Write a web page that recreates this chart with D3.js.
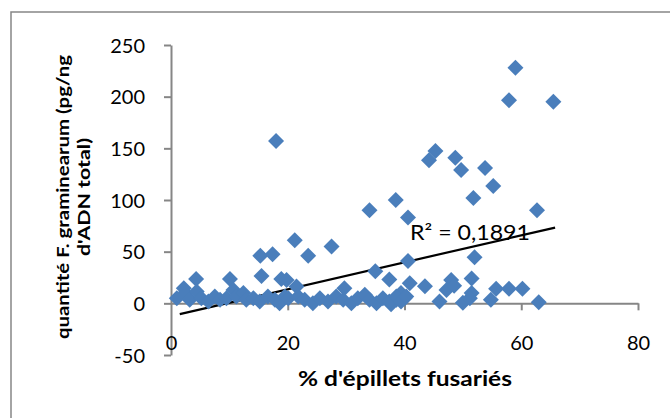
<!DOCTYPE html>
<html>
<head>
<meta charset="utf-8">
<script src="https://cdn.jsdelivr.net/npm/d3@7"></script>
<style>
  html, body { margin: 0; padding: 0; background: #ffffff; }
  svg { display: block; }
</style>
</head>
<body>
<script>
// ---- data ----
const xValues = [
  59.0, 57.9, 65.5, 45.3, 44.2, 48.7, 49.7, 53.8, 55.2, 51.8, 34.0, 38.5, 40.6, 62.7, 18.0,
  52.0, 40.6, 35.0, 37.4, 40.9, 43.5, 48.0, 51.5, 47.2, 51.5, 46.0, 50.0, 51.2, 54.8, 55.7,
  57.9, 60.2, 63.0, 39.4, 38.6, 37.7, 40.0, 48.5,
  21.2, 27.5, 15.3, 17.4, 23.5, 15.5, 18.9, 4.3, 10.1, 2.2, 19.8, 21.5, 29.7,
  1.0, 2.4, 3.2, 4.4, 5.2, 6.4, 7.5, 8.4, 9.5, 10.7, 11.2, 12.4, 12.9, 14.1, 15.2, 16.6,
  17.8, 18.6, 19.5, 20.1, 21.8, 22.9, 24.3, 25.5, 26.9, 28.3, 29.5, 30.9, 32.0, 33.2, 34.0,
  35.2, 36.3, 37.4, 38.6, 39.4, 40.3
];
const yValues = [
  228, 196.5, 195, 147.5, 138.5, 141, 129, 131, 113.5, 102, 90, 100, 83, 90, 157,
  44.5, 41, 31, 23, 19.5, 16.5, 22.7, 24, 13, 10, 1.7, 0.5, 5, 3.4, 14,
  14, 14, 1, 9.9, 3.4, -1, 5, 17,
  61, 55, 46, 47.6, 46, 26.5, 23.5, 23.5, 23.5, 14.7, 22.7, 16.3, 14.7,
  5, 9.9, 3.4, 11.4, 5, 1.7, 6.6, 3.4, 5, 13, 6.6, 9.9, 3.4, 5, 1.7, 6.6,
  3.4, 0.2, 6.6, 5, 6.6, 3.4, 0.2, 5, 1.7, 6.6, 3.4, 0.2, 5, 8.2, 3.4,
  0.2, 5, 1.7, 6.6, 1.7, 6.6
];
const xTicks = [0, 20, 40, 60, 80];
const yTicks = [-50, 0, 50, 100, 150, 200, 250];
const trendSlope = 1.302;
const trendIntercept = -12.4;
const trendRange = [1.5, 65.8];
const r2Label = "R² = 0,1891";
const xTitle = "% d'épillets fusariés";
const yTitleLines = ["quantité F. graminearum (pg/ng", "d'ADN total)"];

// ---- drawing ----
const W = 670, H = 418;
const svg = d3.select("body").append("svg").attr("width", W).attr("height", H);
const font = "Lato, 'Open Sans', sans-serif";
const axisColor = "#868686";

// chart frame (only top and left visible)
svg.append("path").attr("d", `M11,${H} L11,12 L${W},12`)
  .attr("fill", "none").attr("stroke", axisColor).attr("stroke-width", 1.5);

const x = d3.scaleLinear().domain([0, 80]).range([171, 638]);
const y = d3.scaleLinear().domain([-50, 250]).range([355, 45]);

// y axis
const yAxis = svg.append("g").attr("transform", `translate(${x(0)},0)`)
  .call(d3.axisLeft(y).tickValues(yTicks).tickFormat(d => String(d))
    .tickSize(7).tickPadding(19).tickSizeOuter(0));
// x axis at y = 0
const xAxis = svg.append("g").attr("transform", `translate(0,${y(0)})`)
  .call(d3.axisBottom(x).tickValues(xTicks).tickFormat(d => String(d))
    .tickSize(7).tickSizeOuter(0));

[yAxis, xAxis].forEach(g => {
  g.select(".domain").attr("stroke", axisColor).attr("stroke-width", 2);
  g.selectAll(".tick line").attr("stroke", axisColor).attr("stroke-width", 2);
  g.selectAll(".tick text").attr("fill", "#000").attr("font-family", font).attr("font-size", 20);
});
yAxis.selectAll(".tick text").attr("dy", "0.36em");
// x tick labels sit below the plot area
xAxis.selectAll(".tick text").attr("y", y(-50) - y(0) - 19).attr("dy", "0.71em");
xAxis.selectAll(".tick").filter(d => d === 0).select("line").remove();

// trend line
svg.append("line")
  .attr("x1", x(trendRange[0])).attr("y1", y(trendSlope * trendRange[0] + trendIntercept))
  .attr("x2", x(trendRange[1])).attr("y2", y(trendSlope * trendRange[1] + trendIntercept))
  .attr("stroke", "#000").attr("stroke-width", 2.2);

// points
const pts = xValues.map((v, i) => [v, yValues[i]]);
const s = 8;
svg.append("g").selectAll("path").data(pts).join("path")
  .attr("d", d => `M${x(d[0])},${y(d[1]) - s} L${x(d[0]) + s},${y(d[1])} L${x(d[0])},${y(d[1]) + s} L${x(d[0]) - s},${y(d[1])} Z`)
  .attr("fill", "#4A7EBB");

// R² label
svg.append("text").attr("x", 470).attr("y", 240).attr("text-anchor", "middle")
  .attr("font-family", font).attr("font-size", 21).attr("fill", "#000")
  .attr("textLength", 120).attr("lengthAdjust", "spacingAndGlyphs").text(r2Label);

// axis titles
svg.append("text").attr("x", 405).attr("y", 386).attr("text-anchor", "middle")
  .attr("font-family", font).attr("font-weight", "bold").attr("font-size", 20)
  .attr("fill", "#000").attr("textLength", 214).attr("lengthAdjust", "spacingAndGlyphs")
  .text(xTitle);

const yLens = [284, 118];
const yt = svg.append("text").attr("transform", "rotate(-90)")
  .attr("text-anchor", "middle").attr("font-family", font).attr("font-weight", "bold")
  .attr("font-size", 17).attr("fill", "#000");
yTitleLines.forEach((t, i) => {
  yt.append("tspan").attr("x", -197).attr("y", 69 + i * 21)
    .attr("textLength", yLens[i]).attr("lengthAdjust", "spacingAndGlyphs").text(t);
});
</script>
</body>
</html>
